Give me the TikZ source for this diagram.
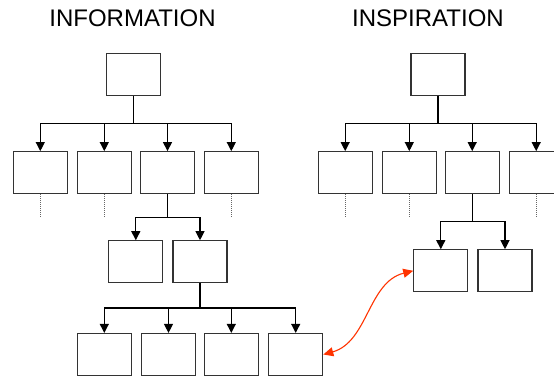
\documentclass[tikz,border=0pt]{standalone}
\usepackage{fontspec}
\setmainfont{Liberation Sans}
\usetikzlibrary{arrows.meta}
\definecolor{redarr}{RGB}{255,51,0}
\begin{document}
\begin{tikzpicture}[x=1pt,y=-1pt,
  box/.style={draw=black!80,line width=1.2pt,minimum width=54pt,minimum height=42pt,inner sep=0pt},
  conn/.style={line width=1.1pt,black},
  arr/.style={conn,-{Triangle[width=9pt,length=9pt]}},
  dots/.style={black!60,line width=1pt,dash pattern=on 1pt off 1pt},
  title/.style={font=\fontsize{24pt}{24pt}\selectfont,anchor=base,inner sep=0pt},
  link/.style={redarr,line width=1.1pt,{Triangle[width=9pt,length=10pt]}-{Triangle[width=9pt,length=10pt]}}]
\useasboundingbox (0,0) rectangle (554,378);
\clip (0,0) rectangle (554,378);
% titles
\node[title] (tinfo) at (132.5,26) {INFORMATION};
\node[title] (tinsp) at (428,26) {INSPIRATION};
% left tree
\node[box] (t1) at (133.5,74.5) {};
\node[box] (a1) at (40.3,172.7) {};
\node[box] (a2) at (104.3,172.7) {};
\node[box] (a3) at (167.5,172.7) {};
\node[box] (a4) at (231.3,172.7) {};
\node[box] (m1) at (135.8,261.8) {};
\node[box] (m2) at (200,261.8) {};
\node[box] (d1) at (104.3,354.5) {};
\node[box] (d2) at (168.5,354.5) {};
\node[box] (d3) at (231.3,354.5) {};
\node[box] (d4) at (295.7,354.5) {};
% right tree
\node[box] (t2) at (438,74.5) {};
\node[box] (b1) at (345.2,172.7) {};
\node[box] (b2) at (409.3,172.7) {};
\node[box] (b3) at (472.2,172.7) {};
\node[box] (b4) at (536.2,172.7) {};
\node[box] (r1) at (440.8,270.8) {};
\node[box] (r2) at (505,270.8) {};
% buses
\coordinate (busA) at (133.5,123.3);
\coordinate (busB) at (167.5,217.3);
\coordinate (busC) at (200,308);
\coordinate (busD) at (438,123.3);
\coordinate (busE) at (472.2,221.3);
% left connectors
\draw[conn] (t1.south) -- (busA);
\foreach \n in {a1,a2,a3,a4} \draw[arr] (busA) -| (\n.north);
\draw[conn] (a3.south) -- (busB);
\foreach \n in {m1,m2} \draw[arr] (busB) -| (\n.north);
\draw[conn] (m2.south) -- (busC);
\foreach \n in {d1,d2,d3,d4} \draw[arr] (busC) -| (\n.north);
% right connectors
\draw[conn] (t2.south) -- (busD);
\foreach \n in {b1,b2,b3,b4} \draw[arr] (busD) -| (\n.north);
\draw[conn] (b3.south) -- (busE);
\foreach \n in {r1,r2} \draw[arr] (busE) -| (\n.north);
% dotted continuations
\coordinate (ea1) at (40.3,217.3);
\coordinate (ea2) at (104.3,217.3);
\coordinate (ea4) at (231.3,217.3);
\coordinate (eb1) at (345.2,218.3);
\coordinate (eb2) at (409.3,218.3);
\coordinate (eb4) at (536.2,218.3);
\draw[dots] (a1.south) -- (ea1);
\draw[dots] (a2.south) -- (ea2);
\draw[dots] (a4.south) -- (ea4);
\draw[dots] (b1.south) -- (eb1);
\draw[dots] (b2.south) -- (eb2);
\draw[dots] (b4.south) -- (eb4);
% red link
\draw[link] (r1.west) .. controls (368,282) and (368,342) .. (d4.east);
\end{tikzpicture}
\end{document}
